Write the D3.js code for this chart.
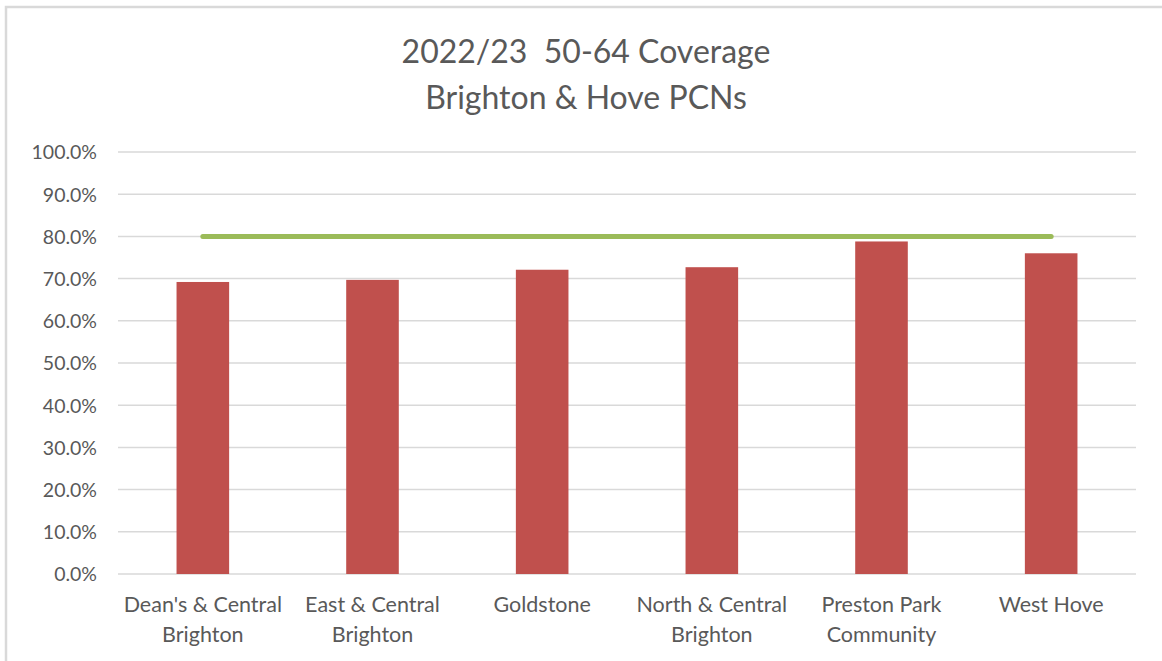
<!DOCTYPE html>
<html>
<head>
<meta charset="utf-8">
<script src="https://cdn.jsdelivr.net/npm/d3@7"></script>
<style>
  body { margin: 0; background: #fff; }
  svg text { font-family: Lato, "Open Sans", sans-serif; fill: #595959; white-space: pre; }
</style>
</head>
<body>
<svg id="chart" width="1162" height="661"></svg>
<script>
// chart data
const categories = [
  ["Dean's & Central", "Brighton"],
  ["East & Central", "Brighton"],
  ["Goldstone"],
  ["North & Central", "Brighton"],
  ["Preston Park", "Community"],
  ["West Hove"]
]
const coverage = [69.2, 69.7, 72.1, 72.7, 78.8, 76.0]
const target = 80
const yTicks = [0, 10, 20, 30, 40, 50, 60, 70, 80, 90, 100]
const titleLines = ["2022/23  50-64 Coverage", "Brighton & Hove PCNs"]

const svg = d3.select("#chart")
const plotLeft = 118, plotRight = 1136, plotTop = 152, plotBottom = 574

//frame (only top and left edges are visible in the source)
svg.append("path")
  .attr("d", "M6,661V7H1162")
  .attr("fill", "none")
  .attr("stroke", "#d9d9d9")
  .attr("stroke-width", 2.5)

svg.append("g").selectAll("text")
  .data(titleLines)
  .join("text")
  .attr("x", 586)
  .attr("y", (d, i) => 63 + i * 46)
  .attr("text-anchor", "middle")
  .attr("font-size", 32)
  .text(d => d)

let x = d3.scaleBand()
  .domain(d3.range(categories.length))
  .range([plotLeft, plotRight])
  .paddingInner(0.69)
  .paddingOuter(0.345)

let y = d3.scaleLinear()
  .domain([0, 100])
  .range([plotBottom, plotTop])

//gridlines
svg.append("g")
  .selectAll("line")
  .data(yTicks)
  .join("line")
  .attr("x1", plotLeft)
  .attr("x2", plotRight)
  .attr("y1", d => y(d))
  .attr("y2", d => y(d))
  .attr("stroke", "#d9d9d9")
  .attr("stroke-width", 1.5)

//y axis labels
svg.append("g")
  .attr("transform", `translate(${plotLeft - 21},0)`)
  .call(d3.axisLeft(y).tickValues(yTicks).tickSize(0).tickPadding(0).tickFormat(d => d3.format(".1f")(d) + "%"))
  .call(g => g.select(".domain").remove())
  .selectAll("text")
  .attr("font-size", 19.5)
  .attr("dy", "0.35em")
  .style("font-family", "Lato, sans-serif")
  .attr("fill", "#595959")

//bars
svg.append("g")
  .selectAll("rect")
  .data(coverage)
  .join("rect")
  .attr("x", (d, i) => x(i))
  .attr("width", x.bandwidth())
  .attr("y", d => y(d))
  .attr("height", d => y(0) - y(d))
  .attr("fill", "#c0504d")

//target line, drawn centre to centre
let cx = i => x(i) + x.bandwidth() / 2
svg.append("line")
  .attr("x1", cx(0))
  .attr("x2", cx(categories.length - 1))
  .attr("y1", y(target))
  .attr("y2", y(target))
  .attr("stroke", "#9bbb59")
  .attr("stroke-width", 5)
  .attr("stroke-linecap", "round")

//category labels
svg.append("g")
  .selectAll("text")
  .data(categories)
  .join("text")
  .attr("x", (d, i) => cx(i))
  .attr("y", 612)
  .attr("text-anchor", "middle")
  .attr("font-size", 21.5)
  .selectAll("tspan")
  .data(d => d)
  .join("tspan")
  .attr("x", function() { return d3.select(this.parentNode).attr("x") })
  .attr("dy", (d, i) => i ? 30 : 0)
  .text(d => d)
</script>
</body>
</html>
